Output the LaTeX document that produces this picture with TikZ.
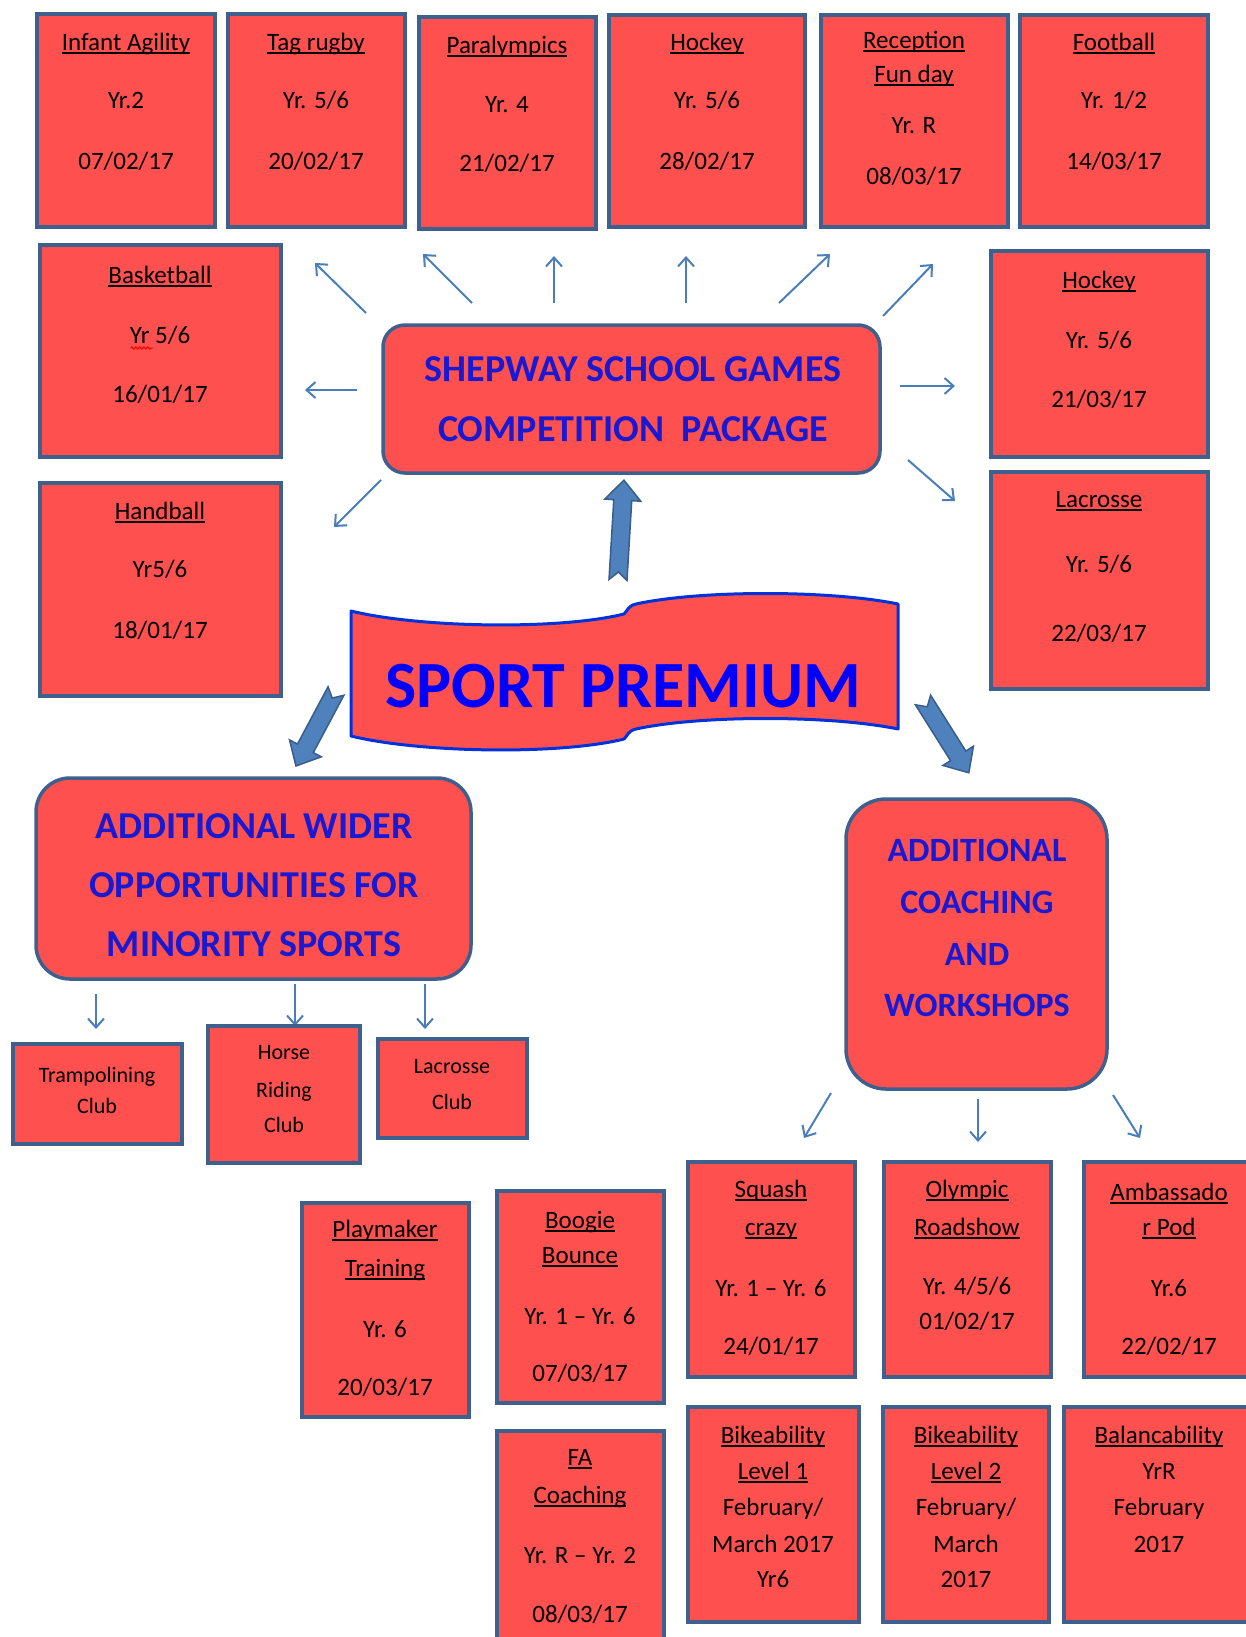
\documentclass[tikz,border=0pt]{standalone}
\usepackage{fontspec}
\setmainfont{Carlito}
\usetikzlibrary{arrows.meta,fit,decorations.pathmorphing}
\definecolor{boxred}{RGB}{255,80,80}
\definecolor{boxedge}{RGB}{62,96,140}
\definecolor{arrowblue}{RGB}{74,126,187}
\definecolor{blockfill}{RGB}{79,129,189}
\definecolor{blockedge}{RGB}{56,93,138}
\definecolor{titleblue}{RGB}{25,25,210}
\definecolor{bannerblue}{RGB}{0,50,220}
\definecolor{pureblue}{RGB}{0,0,255}
\newcommand\ul[1]{\begingroup\setbox0\hbox{#1}\rlap{\rule[-3.5pt]{\wd0}{2pt}}\box0\endgroup}
\newcommand\tx[4]{\node[bt] (#1) at (#2,#3) {#4};}
\newcommand\cx[4]{\node[ct] (#1) at (#2,#3) {#4};}
\newcommand\ttl[4]{\node[tt] (#1) at (#2,#3) {#4};}
\newcommand\pbx[5]{\node[pbox, fit={(#2,#3) (#4,#5)}] (#1) {};}
\newcommand\blockarrow[3]{%
  \begin{scope}[shift={#1}, rotate=#2]
  \draw[blk] (0,-9) -- ({#3-20},-9) -- ({#3-20},-18) -- (#3,0) -- ({#3-20},18) -- ({#3-20},9) -- (0,9) -- (8,0) -- cycle;
  \end{scope}}
\begin{document}
\begin{tikzpicture}[x=1pt,y=-1pt,
  pbox/.style={draw=boxedge, fill=boxred, line width=4.5pt, inner sep=0pt},
  rbox/.style={draw=boxedge, fill=boxred, line width=3.5pt, inner sep=0pt},
  bt/.style={anchor=base, inner sep=0pt, font=\fontsize{25}{30}\selectfont},
  ct/.style={anchor=base, inner sep=0pt, font=\fontsize{22}{27}\selectfont},
  tt/.style={anchor=base, inner sep=0pt, text=titleblue, font=\bfseries\fontsize{38}{46}\selectfont},
  tarr/.style={draw=arrowblue, line width=2pt, -{Straight Barb[length=9pt,width=16pt,line width=2pt]}},
  blk/.style={draw=blockedge, fill=blockfill, line width=1.5pt, line join=miter},
  ]
\useasboundingbox (0,0) rectangle (1246,1637);
\clip (0,0) rectangle (1246,1637);

% ---------- top row ----------
\pbx{b1}{37}{14}{215}{227}
\tx{b1a}{126}{51}{\ul{Infant Agility}}
\tx{b1b}{126}{109}{Yr.2}
\tx{b1c}{126}{170}{07/02/17}

\pbx{b2}{228}{14}{405}{227}
\tx{b2a}{316}{51}{\ul{Tag rugby}}
\tx{b2b}{316}{109}{Yr. 5/6}
\tx{b2c}{316}{170}{20/02/17}

\pbx{b3}{419}{17}{596}{229}
\tx{b3a}{507}{54}{\ul{Paralympics}}
\tx{b3b}{507}{113}{Yr. 4}
\tx{b3c}{507}{172}{21/02/17}

\pbx{b4}{609}{15}{805}{227}
\tx{b4a}{707}{51}{\ul{Hockey}}
\tx{b4b}{707}{109}{Yr. 5/6}
\tx{b4c}{707}{170}{28/02/17}

\pbx{b5}{821}{15}{1008}{227}
\tx{b5a}{914}{49}{\ul{Reception}}
\tx{b5b}{914}{83}{\ul{Fun day}}
\tx{b5c}{914}{134}{Yr. R}
\tx{b5d}{914}{185}{08/03/17}

\pbx{b6}{1020}{15}{1208}{227}
\tx{b6a}{1114}{51}{\ul{Football}}
\tx{b6b}{1114}{109}{Yr. 1/2}
\tx{b6c}{1114}{170}{14/03/17}

% ---------- side boxes ----------
\pbx{b7}{40}{245}{281}{457}
\tx{b7a}{160}{283}{\ul{Basketball}}
\tx{b7b}{160}{343}{Yr 5/6}
\tx{b7c}{160}{402}{16/01/17}
\draw[red, line width=1pt, decorate, decoration={snake, amplitude=1.2pt, segment length=4pt}] (b7b.base west) ++(1,5) -- ++(22,0);

\pbx{b8}{40}{483}{281}{696}
\tx{b8a}{160}{519}{\ul{Handball}}
\tx{b8b}{160}{577}{Yr5/6}
\tx{b8c}{160}{638}{18/01/17}

\pbx{b9}{991}{251}{1208}{457}
\tx{b9a}{1099}{288}{\ul{Hockey}}
\tx{b9b}{1099}{348}{Yr. 5/6}
\tx{b9c}{1099}{407}{21/03/17}

\pbx{b10}{991}{472}{1208}{689}
\tx{b10a}{1099}{507}{\ul{Lacrosse}}
\tx{b10b}{1099}{572}{Yr. 5/6}
\tx{b10c}{1099}{641}{22/03/17}

% ---------- Shepway ----------
\node[rbox, rounded corners=22pt, fit={(383,325) (880,473)}] (shep) {};
\ttl{shep1}{633}{381}{SHEPWAY SCHOOL GAMES}
\ttl{shep2}{633}{441}{COMPETITION\ \ PACKAGE}

% thin arrows around Shepway
\coordinate (s1) at (366,313); \coordinate (e1) at (315,263);
\coordinate (s2) at (472,303); \coordinate (e2) at (423,254);
\coordinate (s3) at (554,303); \coordinate (e3) at (554,256);
\coordinate (s4) at (686,303); \coordinate (e4) at (686,256);
\coordinate (s5) at (779,303); \coordinate (e5) at (830,254);
\coordinate (s6) at (883,316); \coordinate (e6) at (933,264);
\coordinate (s7) at (357,390); \coordinate (e7) at (305,390);
\coordinate (s8) at (900,386); \coordinate (e8) at (955,386);
\coordinate (s9) at (908,460); \coordinate (e9) at (955,501);
\coordinate (s10) at (381,480); \coordinate (e10) at (334,527);
\foreach \i in {1,...,10} {\draw[tarr] (s\i) -- (e\i);}

% ---------- banner ----------
\draw[fill=boxred, draw=bannerblue, line width=3pt, line join=round]
  (351,611) .. controls (420,628) and (560,630) .. (624,614)
  .. controls (628,610) and (628,606) .. (636,604)
  .. controls (700,590) and (830,590) .. (898,604)
  -- (898,729)
  .. controls (830,715) and (700,715) .. (636,729)
  .. controls (628,731) and (628,735) .. (624,739)
  .. controls (560,755) and (420,753) .. (351,736) -- cycle;
\node[anchor=base, inner sep=0pt, text=pureblue, font=\bfseries\fontsize{66}{70}\selectfont] (sp) at (623,707) {SPORT PREMIUM};

% block arrows
\blockarrow{(618,580)}{86.6}{100}
\blockarrow{(336,691)}{241.9}{85}
\blockarrow{(923,700)}{-57.8}{86}

% ---------- wider opportunities ----------
\node[rbox, rounded corners=34pt, fit={(36,778) (471,979)}] (wider) {};
\ttl{w1}{254}{838}{ADDITIONAL WIDER}
\ttl{w2}{254}{897}{OPPORTUNITIES FOR}
\ttl{w3}{254}{956}{MINORITY SPORTS}

\coordinate (ws1) at (96,994); \coordinate (we1) at (96,1029);
\coordinate (ws2) at (295,984); \coordinate (we2) at (295,1026);
\coordinate (ws3) at (425,984); \coordinate (we3) at (425,1029);
\foreach \i in {1,2,3} {\draw[tarr] (ws\i) -- (we\i);}

\pbx{c1}{13}{1044}{182}{1144}
\cx{c1a}{97}{1082}{Trampolining}
\cx{c1b}{97}{1113}{Club}
\pbx{c2}{208}{1026}{360}{1163}
\cx{c2a}{284}{1059}{Horse}
\cx{c2b}{284}{1097}{Riding}
\cx{c2c}{284}{1132}{Club}
\pbx{c3}{378}{1039}{527}{1138}
\cx{c3a}{452}{1073}{Lacrosse}
\cx{c3b}{452}{1109}{Club}

% ---------- coaching ----------
\node[rbox, rounded corners=40pt, fit={(846,799) (1107,1089)}] (coach) {};
\begin{scope}[tt/.append style={font=\bfseries\fontsize{34}{40}\selectfont}]
\ttl{k1}{977}{861}{ADDITIONAL}
\ttl{k2}{977}{913}{COACHING}
\ttl{k3}{977}{965}{AND}
\ttl{k4}{977}{1016}{WORKSHOPS}
\end{scope}

\coordinate (ks1) at (831,1093); \coordinate (ke1) at (804,1138);
\coordinate (ks2) at (978,1099); \coordinate (ke2) at (978,1142);
\coordinate (ks3) at (1113,1095); \coordinate (ke3) at (1140,1138);
\foreach \i in {1,2,3} {\draw[tarr] (ks\i) -- (ke\i);}

% ---------- bottom boxes ----------
\pbx{d1}{302}{1203}{469}{1417}
\tx{d1a}{385}{1237}{\ul{Playmaker}}
\tx{d1b}{385}{1276}{\ul{Training}}
\tx{d1c}{385}{1337}{Yr. 6}
\tx{d1d}{385}{1395}{20/03/17}

\pbx{d2}{497}{1191}{664}{1403}
\tx{d2a}{580}{1228}{\ul{Boogie}}
\tx{d2b}{580}{1263}{\ul{Bounce}}
\tx{d2c}{580}{1324}{Yr. 1 – Yr. 6}
\tx{d2d}{580}{1381}{07/03/17}

\pbx{d3}{497}{1431}{664}{1660}
\tx{d3a}{580}{1465}{\ul{FA}}
\tx{d3b}{580}{1503}{\ul{Coaching}}
\tx{d3c}{580}{1563}{Yr. R – Yr. 2}
\tx{d3d}{580}{1622}{08/03/17}

\pbx{d4}{688}{1162}{855}{1377}
\tx{d4a}{771}{1197}{\ul{Squash}}
\tx{d4b}{771}{1235}{\ul{crazy}}
\tx{d4c}{771}{1296}{Yr. 1 – Yr. 6}
\tx{d4d}{771}{1354}{24/01/17}

\pbx{d5}{884}{1162}{1051}{1377}
\tx{d5a}{967}{1197}{\ul{Olympic}}
\tx{d5b}{967}{1235}{\ul{Roadshow}}
\tx{d5c}{967}{1294}{Yr. 4/5/6}
\tx{d5d}{967}{1329}{01/02/17}

\pbx{d6}{1084}{1162}{1256}{1377}
\tx{d6a}{1169}{1200}{\ul{Ambassado}}
\tx{d6b}{1169}{1235}{\ul{r Pod}}
\tx{d6c}{1169}{1296}{Yr.6}
\tx{d6d}{1169}{1354}{22/02/17}

\pbx{d7}{688}{1407}{859}{1622}
\tx{d7a}{773}{1443}{\ul{Bikeability}}
\tx{d7b}{773}{1479}{\ul{Level 1}}
\tx{d7c}{773}{1515}{February/}
\tx{d7d}{773}{1552}{March 2017}
\tx{d7e}{773}{1587}{Yr6}

\pbx{d8}{883}{1407}{1049}{1622}
\tx{d8a}{966}{1443}{\ul{Bikeability}}
\tx{d8b}{966}{1479}{\ul{Level 2}}
\tx{d8c}{966}{1515}{February/}
\tx{d8d}{966}{1552}{March}
\tx{d8e}{966}{1587}{2017}

\pbx{d9}{1064}{1407}{1256}{1622}
\tx{d9a}{1159}{1443}{\ul{Balancability}}
\tx{d9b}{1159}{1479}{YrR}
\tx{d9c}{1159}{1515}{February}
\tx{d9d}{1159}{1552}{2017}
\end{tikzpicture}
\end{document}
